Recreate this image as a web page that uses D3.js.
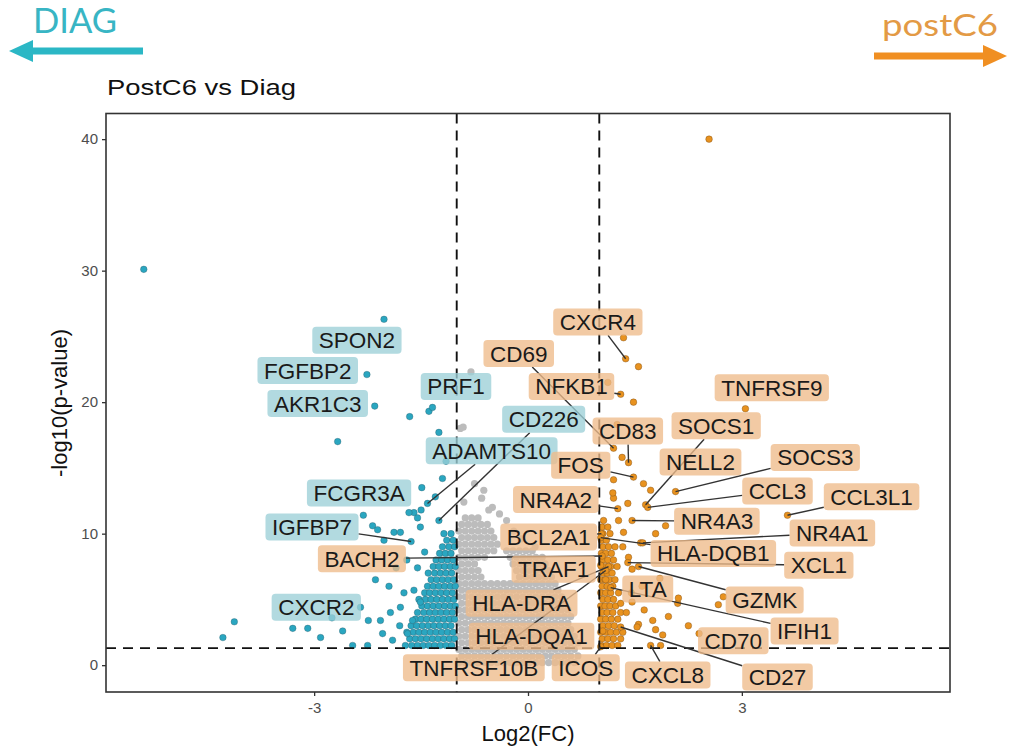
<!DOCTYPE html>
<html><head><meta charset="utf-8">
<script src="https://cdn.jsdelivr.net/npm/d3@7"></script>
<style>body{margin:0;background:#fff}svg{display:block}</style>
</head><body>
<svg id="c" width="1012" height="751"></svg>
<script>
// ---------------- DATA (log2FC, -log10 p) ----------------
const xTicks = [-3, 0, 3];
const yTicks = [0, 10, 20, 30, 40];
const fcCut = 1;
const pCut = 1.3;

// non-significant genes (grey), rows: [-log10p, [log2FC ...]]
const greyRows = [
 [0.2,[-0.97,-0.88,-0.79,-0.70,-0.61,-0.52,-0.43,-0.34,-0.25,-0.16,-0.07,0.02,0.11,0.20,0.29,0.38,0.47,0.56,0.65]],
 [0.7,[-0.93,-0.84,-0.75,-0.66,-0.57,-0.48,-0.39,-0.30,-0.21,-0.12,-0.03,0.06,0.15,0.24,0.33,0.42,0.51,0.60,0.70]],
 [1.2,[-0.97,-0.88,-0.79,-0.70,-0.61,-0.52,-0.43,-0.34,-0.25,-0.16,-0.07,0.02,0.11,0.20,0.29,0.38,0.47,0.56,0.65]],
 [1.7,[-0.93,-0.84,-0.75,-0.66,-0.57,-0.48,-0.39,-0.30,-0.21,-0.12,-0.03,0.06,0.15,0.24,0.33,0.42,0.51,0.60,0.70]],
 [2.2,[-0.97,-0.88,-0.79,-0.70,-0.61,-0.52,-0.43,-0.34,-0.25,-0.16,-0.07,0.02,0.11,0.20,0.29,0.38,0.47,0.56,0.65]],
 [2.7,[-0.93,-0.84,-0.75,-0.66,-0.57,-0.48,-0.39,-0.30,-0.21,-0.12,-0.03,0.06,0.15,0.24,0.33,0.42,0.51,0.60]],
 [3.2,[-0.97,-0.88,-0.79,-0.70,-0.61,-0.52,-0.43,-0.34,-0.25,-0.16,-0.07,0.02,0.11,0.20,0.29,0.38,0.47,0.56]],
 [3.7,[-0.93,-0.84,-0.75,-0.66,-0.57,-0.48,-0.39,-0.30,-0.21,-0.12,-0.03,0.06,0.15,0.24,0.33,0.42,0.51,0.60]],
 [4.2,[-0.97,-0.88,-0.79,-0.70,-0.61,-0.52,-0.43,-0.34,-0.25,-0.16,-0.07,0.02,0.11,0.20,0.29,0.38,0.47,0.56]],
 [4.7,[-0.93,-0.84,-0.75,-0.66,-0.57,-0.48,-0.39,-0.30,-0.21,-0.12,-0.03,0.06,0.15,0.24,0.33,0.42,0.51]],
 [5.2,[-0.97,-0.88,-0.79,-0.70,-0.61,-0.52,-0.43,-0.34,-0.25,-0.16,-0.07,0.02,0.11,0.20,0.29,0.38,0.47]],
 [5.7,[-0.93,-0.84,-0.75,-0.66,-0.57,-0.48,-0.39,-0.30,-0.21,-0.12,-0.03,0.06,0.15,0.24,0.33,0.42]],
 [6.2,[-0.97,-0.88,-0.79,-0.70,-0.61,-0.52,-0.43,-0.34,-0.25,-0.16,-0.07,0.02,0.11,0.20,0.29,0.38]],
 [6.7,[-0.93,-0.84,-0.75,-0.66,-0.12,-0.03,0.06,0.15,0.24,0.33]],
 [7.2,[-0.97,-0.88,-0.79,-0.70,-0.16,-0.07,0.02,0.11,0.20,0.29]],
 [7.7,[-0.93,-0.84,-0.75,-0.21,-0.12,-0.03,0.06,0.15,0.24]],
 [8.2,[-0.97,-0.88,-0.79,-0.70,-0.61,-0.25,-0.16,-0.07,0.02,0.11,0.20]],
 [8.7,[-0.93,-0.84,-0.75,-0.66,-0.57,-0.48,-0.30,-0.21,-0.12,-0.03,0.06]],
 [9.2,[-0.97,-0.88,-0.79,-0.70,-0.61,-0.52,-0.43]],
 [9.7,[-0.93,-0.84,-0.75,-0.66,-0.57,-0.48]],
 [10.2,[-0.97,-0.88,-0.79,-0.70,-0.61,-0.52]],
 [10.7,[-0.93,-0.84,-0.75,-0.66,-0.57]],
 [11.2,[-0.88,-0.79,-0.70]]
];
const greyScatter = [[-0.80,22.3],[-0.95,18.0],[-0.91,18.1],[-0.85,16.0],[-0.75,13.8],[-0.65,12.7],[-0.50,12.0],[-0.30,11.0],[-0.62,13.3],[-0.90,12.4],[-0.40,11.5],[-0.20,10.2],[-0.10,9.6],[0.10,9.0],[-0.55,11.8]];

// DIAG side (blue)
const blueRows = [
 [1.5,[-1.72,-1.63,-1.55,-1.47,-1.39,-1.31,-1.23,-1.15,-1.07]],
 [2.0,[-1.66,-1.58,-1.50,-1.42,-1.34,-1.26,-1.18,-1.10,-1.03]],
 [2.5,[-1.70,-1.61,-1.53,-1.45,-1.37,-1.29,-1.21,-1.13,-1.05]],
 [3.0,[-1.64,-1.56,-1.48,-1.40,-1.32,-1.24,-1.16,-1.08]],
 [3.5,[-1.58,-1.50,-1.42,-1.34,-1.26,-1.18,-1.10,-1.03]],
 [4.0,[-1.55,-1.46,-1.38,-1.30,-1.22,-1.14,-1.06]],
 [4.5,[-1.49,-1.41,-1.33,-1.25,-1.17,-1.09,-1.02]],
 [5.0,[-1.53,-1.44,-1.36,-1.28,-1.20,-1.12,-1.04]],
 [5.5,[-1.45,-1.38,-1.30,-1.22,-1.14,-1.06]],
 [6.0,[-1.41,-1.33,-1.25,-1.17,-1.09,-1.02]],
 [6.5,[-1.36,-1.28,-1.20,-1.12,-1.04]],
 [7.0,[-1.40,-1.31,-1.23,-1.15,-1.07]],
 [7.5,[-1.33,-1.25,-1.17,-1.09,-1.02]],
 [8.0,[-1.29,-1.21,-1.13,-1.05]],
 [8.5,[-1.24,-1.16,-1.08]],
 [9.0,[-1.20,-1.11,-1.03]],
 [9.5,[-1.14,-1.05]],
 [10.0,[-1.18,-1.08]]
];
const blueScatter = [[-5.39,30.1],[-2.67,17.0],[-1.66,18.9],[-1.39,19.3],[-1.25,17.7],[-2.31,11.4],[-2.18,10.6],[-1.60,11.6],[-1.51,10.5],[-1.88,10.1],[-2.02,9.5],[-2.14,6.5],[-4.12,3.3],[-4.28,2.1],[-3.30,2.8],[-3.09,2.8],[-2.91,2.1],[-2.07,3.4],[-2.04,2.4],[-1.93,4.0],[-1.79,4.4],[-1.74,5.5],[-1.90,1.9],[-2.25,1.5],[-2.46,1.5],[-1.69,2.4],[-1.60,5.7],[-1.51,4.8],[-2.11,10.3],[-1.79,10.1],[-1.55,11.2],[-1.67,11.6],[-1.50,11.8],[-1.20,14.2],[-1.15,15.5],[-1.30,12.8],[-1.85,7.4],[-1.95,6.0],[-2.35,4.4],[-1.80,3.0],[-1.62,3.4],[-1.55,7.4],[-1.45,8.6],[-1.70,8.0],[-2.60,2.6],[-2.75,3.6]];

// postC6 side (orange)
const orangeRows = [
 [1.5,[1.03,1.10,1.18,1.26]],
 [2.0,[1.04,1.12,1.20,1.30]],
 [2.5,[1.02,1.09,1.16,1.24,1.33]],
 [3.0,[1.05,1.13,1.21]],
 [3.5,[1.02,1.09,1.17,1.26]],
 [4.0,[1.04,1.11,1.19,1.30]],
 [4.5,[1.02,1.08,1.15,1.23]],
 [5.0,[1.05,1.12,1.20]],
 [5.5,[1.02,1.09,1.16,1.27]],
 [6.0,[1.04,1.11,1.19]],
 [6.5,[1.02,1.08,1.14,1.22]],
 [7.0,[1.05,1.11,1.18]],
 [7.5,[1.03,1.09,1.16,1.25]],
 [8.0,[1.05,1.12,1.20]],
 [8.5,[1.03,1.09,1.17]],
 [9.0,[1.05,1.13,1.22]],
 [9.5,[1.03,1.10]],
 [10.0,[1.05,1.15]],
 [10.5,[1.04,1.12]],
 [11.0,[1.06]]
];
const orangeScatter = [[2.54,40.0],[1.34,24.9],[1.55,22.7],[1.48,20.0],[1.32,15.8],[1.72,13.3],[1.40,12.3],[1.20,12.7],[1.27,11.0],[1.20,14.1],[1.19,13.1],[1.34,10.1],[1.79,10.0],[1.58,9.3],[1.33,9.0],[1.41,8.2],[1.46,7.3],[1.30,4.7],[1.46,4.8],[1.75,3.4],[1.97,3.7],[1.55,3.1],[1.89,2.3],[2.10,4.7],[1.79,2.7],[1.53,2.9],[1.86,1.5],[2.11,5.1],[1.93,10.6],[1.60,6.0],[1.85,6.6],[1.45,5.5],[1.38,4.0],[1.63,4.2],[2.40,2.4],[1.25,18.3],[1.12,21.5],[2.67,4.6],[2.74,5.2]];

// labelled genes: [gene, log2FC, -log10p]
const labelledGenes = [
 ['SPON2',-2.02,26.3],['FGFBP2',-2.26,22.1],['AKR1C3',-2.15,19.7],['PRF1',-1.34,19.6],
 ['CD226',-1.25,11.0],['ADAMTS10',-1.41,12.3],['FCGR3A',-1.49,13.5],['IGFBP7',-1.64,9.4],
 ['CXCR2',-2.24,3.4],
 ['CXCR4',1.37,23.3],['CD69',1.20,16.5],['NFKB1',1.30,20.6],['CD83',1.41,15.4],['FOS',1.48,14.3],
 ['NR4A2',1.26,11.9],['BCL2A1',1.03,10.0],['TRAF1',1.02,7.6],['HLA-DRA',1.13,7.5],
 ['HLA-DQA1',1.05,2.6],['TNFRSF10B',1.09,7.2],['ICOS',1.02,1.4],['TNFRSF9',3.05,19.5],
 ['SOCS1',1.65,12.2],['NELL2',1.62,13.8],['SOCS3',2.07,13.2],['CCL3',1.68,12.0],
 ['CCL3L1',3.64,11.4],['NR4A3',1.46,11.0],['NR4A1',1.61,9.3],['HLA-DQB1',1.02,9.7],
 ['XCL1',1.40,7.8],['LTA',1.09,6.5],['GZMK',1.55,7.5],['IFIH1',1.16,5.9],['CD70',2.25,3.0],
 ['CXCL8',1.72,1.5],['CD27',1.30,2.9],['BACH2',1.04,8.3]
];
// label box group (colour follows label-fill assignment in the reference)
const blueLabelGenes = ['SPON2','FGFBP2','AKR1C3','PRF1','CD226','ADAMTS10','FCGR3A','IGFBP7','CXCR2'];

// repelled label placement (centre, data units) and whether a segment is shown
const labelLayout = {
 SPON2:[-2.40,24.7,0], FGFBP2:[-3.09,22.4,0], AKR1C3:[-2.95,19.9,0], PRF1:[-1.01,21.2,0],
 CD226:[0.22,18.7,1], ADAMTS10:[-0.51,16.3,1], FCGR3A:[-2.37,13.1,0], IGFBP7:[-3.03,10.5,1],
 CXCR2:[-2.97,4.4,0], CXCR4:[0.98,26.1,1], CD69:[-0.13,23.7,1], NFKB1:[0.61,21.2,1],
 CD83:[1.40,17.8,1], FOS:[0.74,15.2,1], NR4A2:[0.39,12.6,1], BCL2A1:[0.29,9.75,1],
 TRAF1:[0.36,7.3,0], 'HLA-DRA':[-0.09,4.7,1], 'HLA-DQA1':[0.05,2.2,0], TNFRSF10B:[-0.76,-0.2,1],
 ICOS:[0.81,-0.2,1], TNFRSF9:[3.42,21.1,0], SOCS1:[2.64,18.2,1], NELL2:[2.42,15.45,0],
 SOCS3:[4.03,15.8,1], CCL3:[3.50,13.25,1], CCL3L1:[4.82,12.8,1], NR4A3:[2.65,10.95,1],
 NR4A1:[4.27,10.05,1], 'HLA-DQB1':[2.60,8.5,1], XCL1:[4.08,7.6,1], LTA:[1.68,5.8,0],
 GZMK:[3.32,4.95,1], IFIH1:[3.88,2.6,1], CD70:[2.88,1.85,0], CXCL8:[1.96,-0.75,1],
 CD27:[3.50,-0.9,1], BACH2:[-2.33,8.1,1]
};

// ---------------- DRAWING ----------------
const svg = d3.select('#c');
const L = 106, R = 950, T = 113.5, B = 692;
const x = d3.scaleLinear().domain([-5.92, 5.92]).range([L, R]);
const y = d3.scaleLinear().domain([-2.04, 41.95]).range([B, T]);

const COL = {grey:'#bcbcbc', blue:'#2aa6c0', orange:'#e8921f'};
const expand = rows => rows.flatMap(([yy, xs]) => xs.map(xx => [xx, yy]));
const greyPts = expand(greyRows).concat(greyScatter);
const bluePts = expand(blueRows).concat(blueScatter, labelledGenes.filter(d => d[1] < 0).map(d => [d[1], d[2]]));
const orangePts = expand(orangeRows).concat(orangeScatter, labelledGenes.filter(d => d[1] > 0).map(d => [d[1], d[2]]));

svg.append('clipPath').attr('id','clip').append('rect').attr('x',L).attr('y',T).attr('width',R-L).attr('height',B-T);
const pg = svg.append('g').attr('clip-path','url(#clip)');
function drawPts(pts, col, stroke, r){
  pg.append('g').selectAll('circle').data(pts).join('circle')
    .attr('cx', d => x(d[0])).attr('cy', d => y(d[1])).attr('r', r)
    .attr('fill', col).attr('stroke', stroke).attr('stroke-width', stroke === 'none' ? 0 : 0.8);
}
drawPts(greyPts, COL.grey, 'none', 3.6);
drawPts(bluePts, COL.blue, 'rgba(40,80,90,0.4)', 3.3);
drawPts(orangePts, COL.orange, 'rgba(120,75,25,0.5)', 3.3);

// threshold lines
const dash = '10,7';
[-fcCut, fcCut].forEach(v => svg.append('line').attr('x1', x(v)).attr('x2', x(v)).attr('y1', T).attr('y2', B)
  .attr('stroke','#111').attr('stroke-width',1.9).attr('stroke-dasharray',dash));
svg.append('line').attr('x1', L).attr('x2', R).attr('y1', y(pCut)).attr('y2', y(pCut))
  .attr('stroke','#111').attr('stroke-width',1.9).attr('stroke-dasharray',dash);

// labels
const lg = svg.append('g');
const segG = lg.append('g'), boxG = lg.append('g');
const FS = 22.5, PADX = 6.5, BH = 27;
labelledGenes.forEach(([g, fx, fy]) => {
  const [lx, ly, seg] = labelLayout[g];
  const cx = x(lx), cy = y(ly);
  const isBlue = blueLabelGenes.includes(g);
  const grp = boxG.append('g');
  const rect = grp.append('rect');
  const t = grp.append('text').text(g).attr('x', cx).attr('y', cy).attr('dy','0.36em')
    .attr('text-anchor','middle').attr('font-family','"Liberation Sans", Arial, sans-serif')
    .attr('font-size', FS).attr('fill','#1a1a1a');
  const w = t.node().getComputedTextLength() + 2 * PADX;
  rect.attr('x', cx - w/2).attr('y', cy - BH/2).attr('width', w).attr('height', BH).attr('rx', 4)
    .attr('fill', isBlue ? '#9ccfd7' : '#eebb8a').attr('fill-opacity', 0.78);
  if (seg) {
    const px = x(fx), py = y(fy);
    const dx = px - cx, dy = py - cy;
    const s = Math.min(Math.abs((w/2) / (dx || 1e-9)), Math.abs((BH/2) / (dy || 1e-9)));
    const ex = cx + dx * Math.min(s, 1), ey = cy + dy * Math.min(s, 1);
    segG.append('line').attr('x1', ex).attr('y1', ey).attr('x2', px).attr('y2', py)
      .attr('stroke','#333').attr('stroke-width',1.4);
  }
});

// panel border
svg.append('rect').attr('x',L).attr('y',T).attr('width',R-L).attr('height',B-T)
  .attr('fill','none').attr('stroke','#333').attr('stroke-width',1.6);

// axes
const fmt = d => String(d);
const ax = svg.append('g').attr('transform',`translate(0,${B})`)
  .call(d3.axisBottom(x).tickValues(xTicks).tickSize(4).tickPadding(6).tickFormat(fmt));
const ay = svg.append('g').attr('transform',`translate(${L},0)`)
  .call(d3.axisLeft(y).tickValues(yTicks).tickSize(4).tickPadding(4).tickFormat(fmt));
[ax, ay].forEach(a => {
  a.select('.domain').remove();
  a.selectAll('line').attr('stroke','#333').attr('stroke-width',1.3);
  a.selectAll('text').attr('fill','#4d4d4d').attr('font-size',15).attr('font-family','"Liberation Sans", Arial, sans-serif');
});

// titles
svg.append('text').text('PostC6 vs Diag').attr('x',107).attr('y',95)
  .attr('font-family','"Liberation Sans", Arial, sans-serif').attr('font-size',22)
  .attr('textLength',189).attr('lengthAdjust','spacingAndGlyphs').attr('fill','#111');
svg.append('text').text('Log2(FC)').attr('x',(L+R)/2).attr('y',741).attr('text-anchor','middle')
  .attr('font-family','"Liberation Sans", Arial, sans-serif').attr('font-size',22).attr('fill','#111');
svg.append('text').text('-log10(p-value)').attr('transform','translate(67,403) rotate(-90)')
  .attr('text-anchor','middle').attr('font-family','"Liberation Sans", Arial, sans-serif')
  .attr('font-size',22).attr('fill','#111');

// direction arrows
function arrow(x0, x1, yy, col){
  const dir = Math.sign(x1 - x0), hl = 24, hw = 11;
  svg.append('line').attr('x1',x0).attr('x2',x1 - dir*hl + dir*2).attr('y1',yy).attr('y2',yy)
    .attr('stroke',col).attr('stroke-width',7);
  svg.append('path').attr('d',`M${x1},${yy} L${x1-dir*hl},${yy-hw} L${x1-dir*hl},${yy+hw} Z`).attr('fill',col);
}
arrow(143, 9, 51, '#2bb7c5');
arrow(874, 1007, 56, '#f08f22');
svg.append('text').text('DIAG').attr('x',33).attr('y',33)
  .attr('font-family','Lato, "Open Sans", sans-serif').attr('font-size',34)
  .attr('textLength',84).attr('lengthAdjust','spacingAndGlyphs').attr('fill','#38b5c4');
svg.append('text').text('postC6').attr('x',882).attr('y',36)
  .attr('font-family','Lato, "Open Sans", sans-serif').attr('font-size',31)
  .attr('textLength',116).attr('lengthAdjust','spacingAndGlyphs').attr('fill','#e39a45');
</script>
</body></html>
